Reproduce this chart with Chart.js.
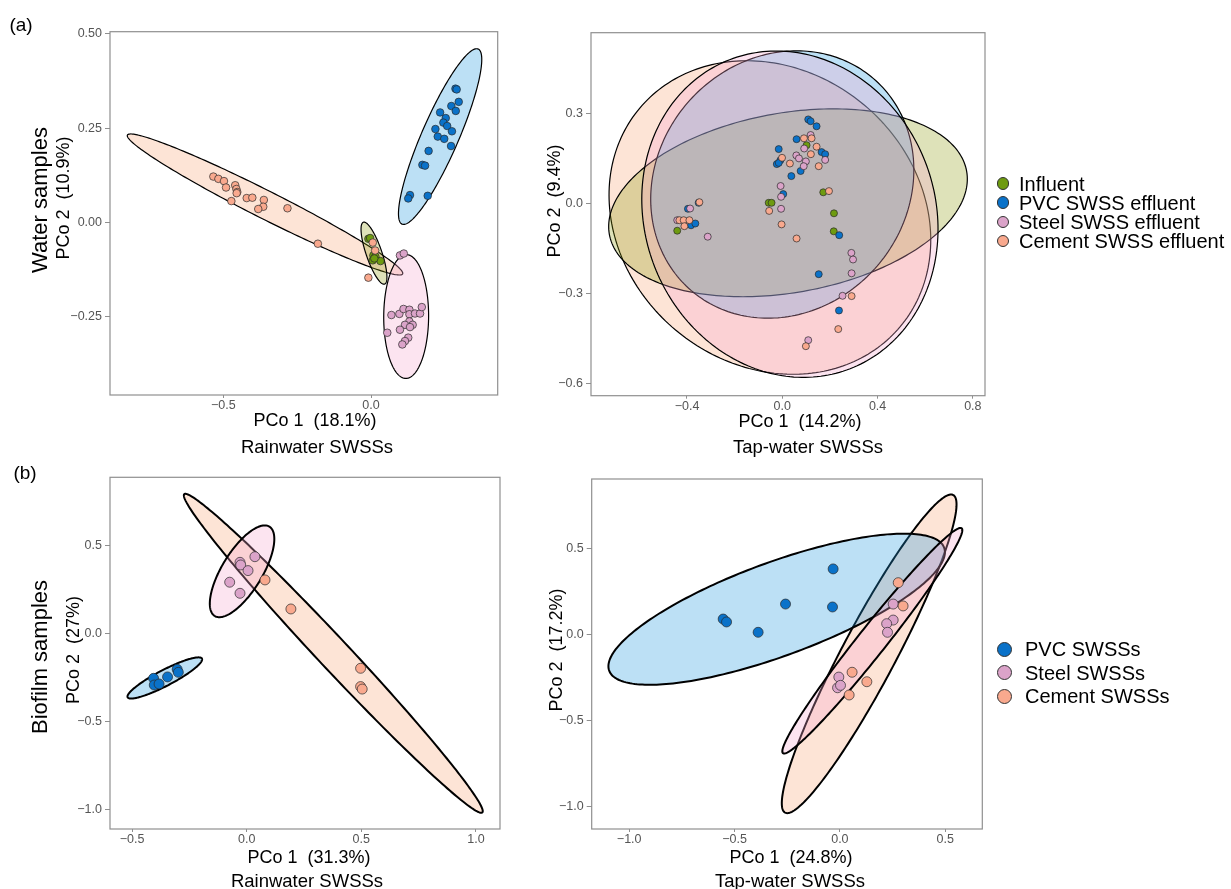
<!DOCTYPE html>
<html>
<head>
<meta charset="utf-8">
<title>PCoA of SWSS water and biofilm communities</title>
<script src="https://cdn.jsdelivr.net/npm/chart.js@4.4.1/dist/chart.umd.min.js"></script>
<style>
  html, body { margin: 0; padding: 0; background: #fff; }
  body { width: 1231px; height: 889px; position: relative; overflow: hidden;
         font-family: "Liberation Sans", Arial, Helvetica, sans-serif; color: #000; }
  canvas { position: absolute; }
  .t { position: absolute; white-space: pre; line-height: 1; transform: translate(-50%, -50%); z-index: 2; }
  .v { transform: translate(-50%, -50%) rotate(-90deg); }
  .legend { position: absolute; z-index: 2; }
  .legend .row { position: absolute; white-space: nowrap; line-height: 1; }
  .legend .dot { position: absolute; border-radius: 50%; border: 1px solid #333; box-sizing: border-box; }
  .legend .lab { position: absolute; transform: translateY(-50%); }
</style>
</head>
<body>

<canvas id="rainWater" width="510" height="420" style="left:0;top:0"></canvas>
<canvas id="tapWater" width="460" height="420" style="left:540px;top:0"></canvas>
<canvas id="rainBiofilm" width="510" height="400" style="left:0;top:460px"></canvas>
<canvas id="tapBiofilm" width="460" height="400" style="left:540px;top:460px"></canvas>

<div class="t" style="left:21px;top:24px;font-size:19px">(a)</div>
<div class="t" style="left:25px;top:472px;font-size:19px">(b)</div>

<div class="t v" style="left:40px;top:200px;font-size:22px">Water samples</div>
<div class="t v" style="left:63px;top:198px;font-size:18px">PCo 2  (10.9%)</div>
<div class="t" style="left:315px;top:420px;font-size:18px">PCo 1  (18.1%)</div>
<div class="t" style="left:317px;top:447px;font-size:18.5px">Rainwater SWSSs</div>

<div class="t v" style="left:554px;top:201px;font-size:18px">PCo 2  (9.4%)</div>
<div class="t" style="left:800px;top:421px;font-size:18px">PCo 1  (14.2%)</div>
<div class="t" style="left:808px;top:447px;font-size:18.5px">Tap-water SWSSs</div>

<div class="t v" style="left:40px;top:657px;font-size:22px">Biofilm samples</div>
<div class="t v" style="left:73px;top:650px;font-size:18px">PCo 2  (27%)</div>
<div class="t" style="left:309px;top:857px;font-size:18px">PCo 1  (31.3%)</div>
<div class="t" style="left:307px;top:881px;font-size:18.5px">Rainwater SWSSs</div>

<div class="t v" style="left:556px;top:650px;font-size:18px">PCo 2  (17.2%)</div>
<div class="t" style="left:791px;top:857px;font-size:18px">PCo 1  (24.8%)</div>
<div class="t" style="left:790px;top:881px;font-size:18.5px">Tap-water SWSSs</div>

<div class="legend" id="legendWater"></div>
<div class="legend" id="legendBiofilm"></div>

<script>
// ---------- group names and colours ----------
const waterGroups = ['Influent', 'PVC SWSS effluent', 'Steel SWSS effluent', 'Cement SWSS effluent'];
const biofilmGroups = ['PVC SWSSs', 'Steel SWSSs', 'Cement SWSSs'];
const pointColors = { influent: '#6e9b10', pvc: '#0a72c9', steel: '#dba3c9', cement: '#f9a98e' };
const fillColors = {
  influent: 'rgba(135,152,5,0.28)',
  pvc: 'rgba(32,152,222,0.30)',
  steel: 'rgba(245,165,205,0.30)',
  cement: 'rgba(248,165,118,0.30)'
};

// ---------- (a) water samples, rainwater SWSSs: [PCo1, PCo2] ----------
const rainWaterInfluent = [[-0.009,-0.043],[-0.003,-0.041],[0.008,-0.087],[0.015,-0.090],[0.006,-0.100],[0.032,-0.102],[0.011,-0.095]];
const rainWaterPVC = [[0.286,0.355],[0.290,0.353],[0.297,0.320],[0.272,0.309],[0.287,0.296],[0.234,0.292],[0.253,0.277],
  [0.245,0.265],[0.258,0.256],[0.274,0.242],[0.218,0.248],[0.226,0.228],[0.248,0.222],[0.271,0.203],[0.195,0.190],
  [0.174,0.153],[0.183,0.151],[0.132,0.073],[0.126,0.064],[0.192,0.071]];
const rainWaterSteel = [[0.098,-0.087],[0.111,-0.082],[0.069,-0.245],[0.096,-0.242],[0.110,-0.229],[0.130,-0.231],
  [0.130,-0.243],[0.149,-0.241],[0.166,-0.241],[0.172,-0.224],[0.130,-0.262],[0.115,-0.271],[0.098,-0.284],
  [0.141,-0.271],[0.055,-0.292],[0.126,-0.305],[0.115,-0.314],[0.106,-0.323],[0.132,-0.277]];
const rainWaterCement = [[-0.534,0.122],[-0.517,0.116],[-0.498,0.110],[-0.491,0.093],[-0.460,0.099],[-0.456,0.089],
  [-0.453,0.081],[-0.455,0.078],[-0.473,0.057],[-0.421,0.065],[-0.402,0.066],[-0.363,0.060],[-0.365,0.042],
  [-0.382,0.036],[-0.283,0.038],[-0.180,-0.056],[0.006,-0.053],[0.014,-0.074],[-0.009,-0.146]];

// ellipses: [centre x, centre y, end of one axis x, y, end of the other axis x, y]
const rainWaterEllipseCement = [-0.359, 0.048, -0.825, 0.232, -0.338, 0.081];
const rainWaterEllipseInfluent = [0.010, -0.081, -0.026, 0.001, 0.035, -0.074];
const rainWaterEllipsePVC = [0.234, 0.228, 0.363, 0.460, 0.291, 0.208];
const rainWaterEllipseSteel = [0.119, -0.249, 0.120, -0.085, 0.195, -0.249];

// ---------- (a) water samples, tap-water SWSSs ----------
const tapWaterInfluent = [[0.102,0.194],[0.172,0.037],[-0.057,0.002],[-0.045,0.002],[0.217,-0.033],[0.216,-0.093],[-0.441,-0.091]];
const tapWaterPVC = [[0.109,0.280],[0.119,0.274],[0.144,0.257],[0.060,0.214],[-0.015,0.181],[0.165,0.171],[0.180,0.164],
  [-0.008,0.144],[-0.023,0.131],[-0.015,0.135],[0.038,0.091],[0.077,0.108],[0.004,0.031],[-0.396,-0.018],
  [-0.351,0.002],[-0.383,-0.073],[-0.365,-0.067],[0.239,-0.106],[0.153,-0.236],[0.238,-0.357]];
const tapWaterSteel = [[0.119,0.228],[0.092,0.183],[0.059,0.160],[0.070,0.150],[0.099,0.140],[0.090,0.124],[0.180,0.145],
  [-0.007,0.058],[-0.005,0.022],[-0.005,-0.018],[-0.387,-0.017],[-0.441,-0.056],[-0.313,-0.111],[0.290,-0.165],
  [0.297,-0.187],[0.291,-0.233],[0.253,-0.308],[0.109,-0.456]];
const tapWaterCement = [[0.091,0.217],[0.123,0.217],[0.144,0.189],[0.120,0.164],[0.032,0.133],[-0.001,0.152],[0.153,0.124],
  [0.196,0.041],[-0.055,-0.025],[-0.003,-0.070],[0.060,-0.117],[-0.348,0.004],[-0.432,-0.056],[-0.414,-0.056],
  [-0.390,-0.056],[-0.411,-0.076],[0.291,-0.309],[0.235,-0.419],[0.099,-0.476]];

const tapWaterEllipseCement = [-0.052, -0.047, 0.495, -0.411, 0.344, 0.328];
const tapWaterEllipseInfluent = [0.024, 0.002, 0.774, 0.107, 0.089, -0.293];
const tapWaterEllipsePVC = [0.000, 0.063, 0.383, 0.416, 0.398, -0.209];
const tapWaterEllipseSteel = [0.032, -0.036, 0.285, -0.551, 0.600, 0.139];

// ---------- (b) biofilm samples, rainwater SWSSs ----------
const rainBiofilmPVC = [[-0.406,-0.252],[-0.403,-0.290],[-0.382,-0.284],[-0.345,-0.244],[-0.303,-0.201],[-0.298,-0.218]];
const rainBiofilmSteel = [[-0.029,0.407],[-0.026,0.392],[0.036,0.439],[0.006,0.360],[-0.074,0.294],[-0.029,0.231]];
const rainBiofilmCement = [[0.080,0.307],[0.193,0.142],[0.497,-0.195],[0.497,-0.299],[0.504,-0.313]];

const rainBiofilmEllipseCement = [0.378, -0.110, -0.272, 0.794, 0.427, -0.049];
const rainBiofilmEllipsePVC = [-0.357, -0.250, -0.195, -0.140, -0.341, -0.290];
const rainBiofilmEllipseSteel = [-0.020, 0.356, 0.099, 0.610, 0.055, 0.297];

// ---------- (b) biofilm samples, tap-water SWSSs ----------
const tapBiofilmPVC = [[-0.554,0.091],[-0.538,0.074],[-0.388,0.014],[-0.258,0.178],[-0.032,0.382],[-0.035,0.161]];
const tapBiofilmSteel = [[0.253,0.178],[0.253,0.085],[0.222,0.064],[0.226,0.014],[-0.005,-0.246],[-0.011,-0.308],[0.003,-0.294]];
const tapBiofilmCement = [[0.277,0.302],[0.300,0.167],[0.058,-0.218],[0.128,-0.273],[0.044,-0.350]];

const tapBiofilmEllipseCement = [0.139, -0.111, 0.538, 0.811, 0.252, -0.184];
const tapBiofilmEllipsePVC = [-0.300, 0.148, 0.495, 0.505, -0.224, -0.107];
const tapBiofilmEllipseSteel = [0.154, -0.035, 0.578, 0.618, 0.206, -0.086];

// ---------- tick values and labels ----------
const M = '\u2212';
const rainWaterXTicks = [-0.5, 0.0];
const rainWaterXLabels = [M + '0.5', '0.0'];
const rainWaterYTicks = [-0.25, 0.0, 0.25, 0.5];
const rainWaterYLabels = [M + '0.25', '0.00', '0.25', '0.50'];
const tapWaterXTicks = [-0.4, 0.0, 0.4, 0.8];
const tapWaterXLabels = [M + '0.4', '0.0', '0.4', '0.8'];
const tapWaterYTicks = [-0.6, -0.3, 0.0, 0.3];
const tapWaterYLabels = [M + '0.6', M + '0.3', '0.0', '0.3'];
const rainBiofilmXTicks = [-0.5, 0.0, 0.5, 1.0];
const rainBiofilmXLabels = [M + '0.5', '0.0', '0.5', '1.0'];
const biofilmYTicks = [-1.0, -0.5, 0.0, 0.5];
const biofilmYLabels = [M + '1.0', M + '0.5', '0.0', '0.5'];
const tapBiofilmXTicks = [-1.0, -0.5, 0.0, 0.5];
const tapBiofilmXLabels = [M + '1.0', M + '0.5', '0.0', '0.5'];

// ---------- helpers ----------
const FONT = '"Liberation Sans", Arial, Helvetica, sans-serif';
const toXY = arr => arr.map(p => ({ x: p[0], y: p[1] }));

// confidence ellipses, drawn under the points and clipped to the panel
const ellipsePlugin = {
  id: 'groupEllipses',
  beforeDatasetsDraw(chart, args, opts) {
    const { ctx, chartArea: a, scales: { x, y } } = chart;
    ctx.save();
    ctx.beginPath();
    ctx.rect(a.left, a.top, a.right - a.left, a.bottom - a.top);
    ctx.clip();
    for (const e of opts.items || []) {
      const [cx, cy, ax, ay, bx, by] = e.shape;
      const px = x.getPixelForValue(cx), py = y.getPixelForValue(cy);
      const ux = x.getPixelForValue(ax) - px, uy = y.getPixelForValue(ay) - py;
      const vx = x.getPixelForValue(bx) - px, vy = y.getPixelForValue(by) - py;
      ctx.beginPath();
      const n = 240;
      for (let i = 0; i <= n; i++) {
        const t = (i / n) * Math.PI * 2;
        const c = Math.cos(t), s = Math.sin(t);
        const X = px + ux * c + vx * s, Y = py + uy * c + vy * s;
        if (i === 0) ctx.moveTo(X, Y); else ctx.lineTo(X, Y);
      }
      ctx.closePath();
      ctx.fillStyle = e.fill;
      ctx.fill();
      ctx.lineWidth = opts.lineWidth || 1.2;
      ctx.strokeStyle = '#000';
      ctx.stroke();
    }
    ctx.restore();
  }
};

// grey panel border drawn on top
const framePlugin = {
  id: 'panelFrame',
  afterDatasetsDraw(chart) {
    const { ctx, chartArea: a } = chart;
    ctx.save();
    ctx.strokeStyle = '#8f8f8f';
    ctx.lineWidth = 1.2;
    ctx.strokeRect(a.left, a.top, a.right - a.left, a.bottom - a.top);
    ctx.restore();
  }
};

function axis(min, max, ticks, labels, size, horizontal) {
  return {
    type: 'linear',
    min, max,
    afterBuildTicks: s => { s.ticks = ticks.map(v => ({ value: v })); },
    afterFit: s => {
      if (horizontal) s.height = size; else s.width = size;
      s.paddingLeft = s.paddingRight = s.paddingTop = s.paddingBottom = 0;
    },
    ticks: {
      autoSkip: false, maxRotation: 0, minRotation: 0,
      padding: horizontal ? 0 : 3,
      color: '#555555',
      font: { family: FONT, size: 12.5 },
      callback: v => labels[ticks.indexOf(v)]
    },
    grid: { drawOnChartArea: false, drawTicks: true, tickLength: horizontal ? 3 : 5, color: '#8f8f8f', lineWidth: 1 },
    border: { display: false }
  };
}

function pointSet(points, color, radius) {
  return {
    data: toXY(points),
    backgroundColor: color,
    borderColor: '#2a2a2a',
    borderWidth: 0.7,
    pointRadius: radius,
    pointHoverRadius: radius
  };
}

function panel(id, cfg) {
  return new Chart(document.getElementById(id), {
    type: 'scatter',
    data: { datasets: cfg.datasets },
    options: {
      responsive: false,
      animation: false,
      events: [],
      layout: { padding: cfg.padding },
      scales: { x: cfg.x, y: cfg.y },
      plugins: {
        legend: { display: false },
        tooltip: { enabled: false },
        groupEllipses: { items: cfg.ellipses, lineWidth: cfg.lineWidth }
      }
    },
    plugins: [ellipsePlugin, framePlugin]
  });
}

// ---------- (a) rainwater, water samples ----------
panel('rainWater', {
  padding: { left: 0, top: 31.7, right: 12.3, bottom: 0 },
  x: axis(-0.884, 0.429, rainWaterXTicks, rainWaterXLabels, 25, true),
  y: axis(-0.457, 0.506, rainWaterYTicks, rainWaterYLabels, 110, false),
  lineWidth: 1.2,
  ellipses: [
    { shape: rainWaterEllipseCement, fill: fillColors.cement },
    { shape: rainWaterEllipseInfluent, fill: fillColors.influent },
    { shape: rainWaterEllipsePVC, fill: fillColors.pvc },
    { shape: rainWaterEllipseSteel, fill: fillColors.steel }
  ],
  datasets: [
    pointSet(rainWaterCement, pointColors.cement, 3.8),
    pointSet(rainWaterInfluent, pointColors.influent, 3.8),
    pointSet(rainWaterPVC, pointColors.pvc, 3.8),
    pointSet(rainWaterSteel, pointColors.steel, 3.8)
  ]
});

// ---------- (a) tap-water, water samples ----------
panel('tapWater', {
  padding: { left: 0, top: 32.7, right: 15, bottom: 0 },
  x: axis(-0.803, 0.851, tapWaterXTicks, tapWaterXLabels, 24.3, true),
  y: axis(-0.641, 0.569, tapWaterYTicks, tapWaterYLabels, 51, false),
  lineWidth: 1.2,
  ellipses: [
    { shape: tapWaterEllipseCement, fill: fillColors.cement },
    { shape: tapWaterEllipseInfluent, fill: fillColors.influent },
    { shape: tapWaterEllipsePVC, fill: fillColors.pvc },
    { shape: tapWaterEllipseSteel, fill: fillColors.steel }
  ],
  datasets: [
    pointSet(tapWaterCement, pointColors.cement, 3.5),
    pointSet(tapWaterSteel, pointColors.steel, 3.5),
    pointSet(tapWaterPVC, pointColors.pvc, 3.5),
    pointSet(tapWaterInfluent, pointColors.influent, 3.5)
  ]
});

// ---------- (b) rainwater, biofilm samples ----------
panel('rainBiofilm', {
  padding: { left: 0, top: 17.3, right: 10, bottom: 0 },
  x: axis(-0.596, 1.105, rainBiofilmXTicks, rainBiofilmXLabels, 31, true),
  y: axis(-1.108, 0.89, biofilmYTicks, biofilmYLabels, 110, false),
  lineWidth: 2,
  ellipses: [
    { shape: rainBiofilmEllipseCement, fill: fillColors.cement },
    { shape: rainBiofilmEllipsePVC, fill: fillColors.pvc },
    { shape: rainBiofilmEllipseSteel, fill: fillColors.steel }
  ],
  datasets: [
    pointSet(rainBiofilmCement, pointColors.cement, 5),
    pointSet(rainBiofilmPVC, pointColors.pvc, 5),
    pointSet(rainBiofilmSteel, pointColors.steel, 5)
  ]
});

// ---------- (b) tap-water, biofilm samples ----------
panel('tapBiofilm', {
  padding: { left: 0, top: 19, right: 17.7, bottom: 0 },
  x: axis(-1.178, 0.676, tapBiofilmXTicks, tapBiofilmXLabels, 31, true),
  y: axis(-1.128, 0.904, biofilmYTicks, biofilmYLabels, 51.7, false),
  lineWidth: 2,
  ellipses: [
    { shape: tapBiofilmEllipseCement, fill: fillColors.cement },
    { shape: tapBiofilmEllipsePVC, fill: fillColors.pvc },
    { shape: tapBiofilmEllipseSteel, fill: fillColors.steel }
  ],
  datasets: [
    pointSet(tapBiofilmCement, pointColors.cement, 5),
    pointSet(tapBiofilmPVC, pointColors.pvc, 5),
    pointSet(tapBiofilmSteel, pointColors.steel, 5)
  ]
});

// ---------- legends ----------
function buildLegend(elId, names, colors, opt) {
  const el = document.getElementById(elId);
  names.forEach((name, i) => {
    const cy = opt.top + i * opt.step;
    const dot = document.createElement('div');
    dot.className = 'dot';
    dot.style.width = dot.style.height = opt.dot + 'px';
    dot.style.left = (opt.dotX - opt.dot / 2) + 'px';
    dot.style.top = (cy - opt.dot / 2) + 'px';
    dot.style.background = colors[i];
    const lab = document.createElement('div');
    lab.className = 'row lab';
    lab.textContent = name;
    lab.style.left = opt.textX + 'px';
    lab.style.top = cy + 'px';
    lab.style.fontSize = opt.size + 'px';
    el.appendChild(dot);
    el.appendChild(lab);
  });
}
buildLegend('legendWater', waterGroups,
  [pointColors.influent, pointColors.pvc, pointColors.steel, pointColors.cement],
  { top: 183.5, step: 19.2, dot: 12.5, dotX: 1003, textX: 1019, size: 20 });
buildLegend('legendBiofilm', biofilmGroups,
  [pointColors.pvc, pointColors.steel, pointColors.cement],
  { top: 649, step: 23.5, dot: 15, dotX: 1004, textX: 1025, size: 20 });
</script>
</body>
</html>
